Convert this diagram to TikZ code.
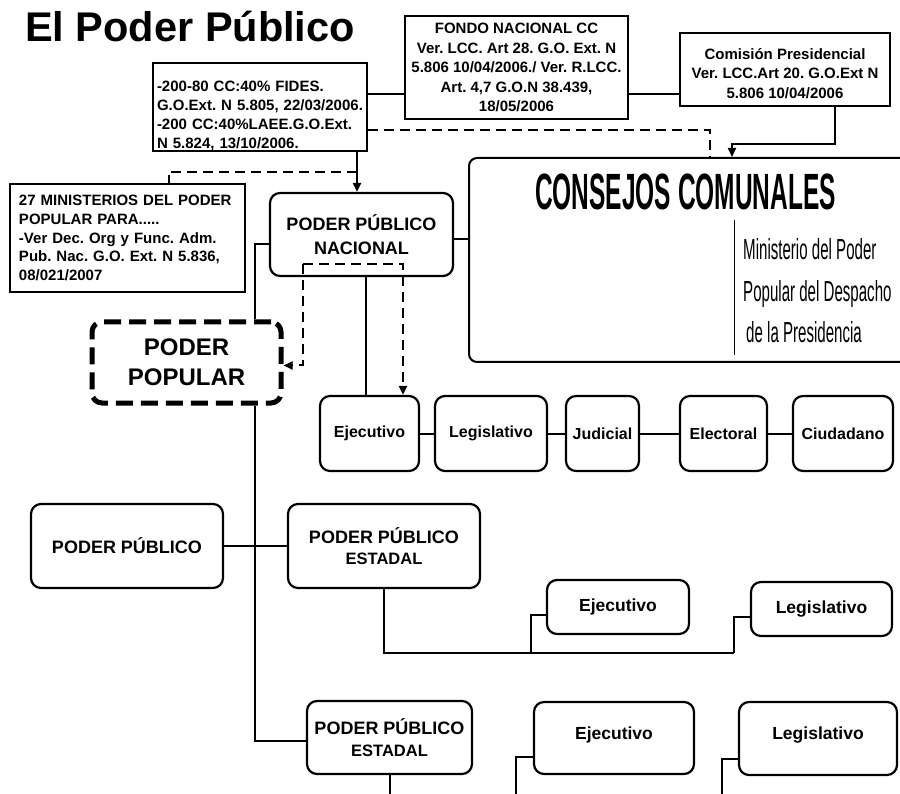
\documentclass[tikz,border=0pt]{standalone}
\usepackage{fontspec}
\setmainfont{Liberation Sans}
\usepackage{graphicx}
\usepackage{tikz}
\usetikzlibrary{arrows.meta}

\tikzset{
  lawbox/.style = {draw, line width = 2.2pt, inner sep = 0pt, font = \fontsize{15}{18.8}\selectfont\bfseries},
  powbox/.style = {draw, line width = 2.2pt, rounded corners = 10pt, align = center, inner sep = 0pt},
  rowA/.style = {powbox, minimum height = 75pt, font = \fontsize{16}{19}\selectfont\bfseries},
  rowB/.style = {powbox, font = \fontsize{17.5}{21}\selectfont\bfseries},
  bigbox/.style = {powbox, font = \fontsize{18}{24}\selectfont\bfseries},
  link/.style = {line width = 2pt},
  dlink/.style = {line width = 2pt, dash pattern = on 10pt off 6pt},
  arr/.style = {-{Triangle[length = 9pt, width = 8pt]}}
}

\begin{document}
\frenchspacing
\begin{tikzpicture}[x = 1pt, y = -1pt]
  \path[use as bounding box, fill = white] (0, 0) rectangle (900, 794);
  \node[anchor = base west, inner sep = 0pt, font = \fontsize{41.5}{42}\selectfont\bfseries] (title) at (25, 42) {El Poder Público};
  \node[lawbox, minimum width = 214pt, minimum height = 88pt, text width = 206pt, align = left] (decA) at (260, 107) {\rule{0pt}{28pt}-200-80 CC:40\% FIDES.\\G.O.Ext. N 5.805, 22/03/2006.\\-200 CC:40\%LAEE.G.O.Ext.\\N 5.824, 13/10/2006.};
  \node[lawbox, align = center, minimum width = 223pt, minimum height = 103pt, font = \fontsize{15}{19.5}\selectfont\bfseries] (fondo) at (516.5, 67.5) {FONDO NACIONAL CC\\Ver. LCC. Art 28. G.O. Ext. N\\5.806 10/04/2006./ Ver. R.LCC.\\Art. 4,7 G.O.N 38.439,\\18/05/2006};
  \node[lawbox, align = center, minimum width = 210pt, minimum height = 73pt, font = \fontsize{15}{19.5}\selectfont\bfseries] (comision) at (785, 69.5) {\rule{0pt}{19pt}Comisión Presidencial\\Ver. LCC.Art 20. G.O.Ext N\\5.806 10/04/2006};
  \node[lawbox, minimum width = 235pt, minimum height = 108pt, text width = 217pt, align = left] (minis) at (127.5, 238) {27 MINISTERIOS DEL PODER\\POPULAR PARA.....\\-Ver Dec. Org y Func. Adm.\\Pub. Nac. G.O. Ext. N 5.836,\\08/021/2007};
  \node[bigbox, minimum width = 183pt, minimum height = 83pt] (ppn) at (361.5, 234.5) {PODER PÚBLICO\\NACIONAL};

  \node[draw, line width = 2pt, rounded corners = 8pt, minimum width = 440pt, minimum height = 204pt] (consejos) at (689, 260) {};
  \node[anchor = base, inner sep = 0pt, font = \fontsize{51}{51}\selectfont\bfseries] (ccTitle) at (685.5, 210) {\scalebox{0.48}[1]{CONSEJOS COMUNALES}};
  \draw[line width = 1pt] (734, 220) -- (734, 355);
  \node[anchor = base west, inner sep = 0pt, font = \fontsize{29}{29}\selectfont] (minA) at (743, 260) {\scalebox{0.52}[1]{Ministerio del Poder}};
  \node[anchor = base west, inner sep = 0pt, font = \fontsize{29}{29}\selectfont] (minB) at (743, 302) {\scalebox{0.52}[1]{Popular del Despacho}};
  \node[anchor = base west, inner sep = 0pt, font = \fontsize{29}{29}\selectfont] (minC) at (746, 343) {\scalebox{0.52}[1]{de la Presidencia}};

  \node[draw, line width = 5pt, dash pattern = on 17pt off 8pt, rounded corners = 10pt, minimum width = 189pt, minimum height = 81pt, align = center, inner sep = 0pt, font = \fontsize{24}{30}\selectfont\bfseries] (popular) at (186.5, 362.5) {PODER\\POPULAR};

  \node[rowA, minimum width = 99pt] (ejA) at (369.5, 433.5) {Ejecutivo};
  \node[rowA, minimum width = 112pt] (legA) at (491, 433.5) {Legislativo};
  \node[rowA, minimum width = 73pt] (jud) at (602.5, 433.5) {Judicial};
  \node[rowA, minimum width = 87pt] (ele) at (723.5, 433.5) {\raisebox{-3pt}{Electoral}};
  \node[rowA, minimum width = 100pt] (ciu) at (843, 433.5) {Ciudadano};

  \node[bigbox, minimum width = 192pt, minimum height = 84pt] (poderp) at (127, 546) {PODER PÚBLICO};
  \node[bigbox, minimum width = 192pt, minimum height = 84pt, font = \fontsize{18}{21}\selectfont\bfseries] (ppeA) at (384, 546) {PODER PÚBLICO\\{\fontsize{16.5}{21}\selectfont ESTADAL}};
  \node[rowB, minimum width = 142pt, minimum height = 54pt] (ejB) at (618, 607) {Ejecutivo};
  \node[rowB, minimum width = 141pt, minimum height = 54pt] (legB) at (821.5, 609) {Legislativo};
  \node[bigbox, minimum width = 165pt, minimum height = 73pt, font = \fontsize{18}{22}\selectfont\bfseries] (ppeB) at (389.5, 737.5) {PODER PÚBLICO\\{\fontsize{16.5}{22}\selectfont ESTADAL}};
  \node[rowB, minimum width = 160pt, minimum height = 72pt] (ejC) at (614, 738) {\raisebox{9pt}{Ejecutivo}};
  \node[rowB, minimum width = 158pt, minimum height = 73pt] (legC) at (818, 738.5) {\raisebox{10pt}{Legislativo}};

  \coordinate (cmBend) at (732, 144);
  \coordinate (aJoin) at (357, 172);
  \coordinate (dL) at (303, 264);
  \coordinate (dR) at (403, 264);
  \coordinate (eTap) at (531, 653);
  \coordinate (eBus) at (734, 653);
  \coordinate (bot) at (0, 800);

  \draw[link] ([yshift = 13pt]decA.east) -- ([yshift = 13pt]decA.east -| fondo.west);
  \draw[link] ([yshift = -26.5pt]fondo.east) -- ([yshift = -26.5pt]fondo.east -| comision.west);
  \draw[link, arr] ([xshift = 50pt]comision.south) |- (cmBend) -- (cmBend |- consejos.north);
  \draw[dlink] ([yshift = -23pt]decA.east) -| ([xshift = 21pt]consejos.north);
  \draw[link, arr] ([xshift = 97pt]decA.south) -- ([xshift = 97pt]decA.south |- ppn.north);
  \draw[dlink] (aJoin) -| ([xshift = 41pt]minis.north);
  \draw[link] ([yshift = -9.5pt]ppn.west) -| ([xshift = 68.5pt]popular.north);
  \draw[link] ([yshift = -4.5pt]ppn.east) -- ([yshift = -4.5pt]ppn.east -| consejos.west);
  \draw[link] ([xshift = 4.5pt]ppn.south) -- ([xshift = 4.5pt]ppn.south |- ejA.north);
  \draw[dlink, arr] (dL) -- (dR) -- (dR |- ejA.north);
  \draw[dlink, arr] (dL) |- ([yshift = -3pt]popular.east);

  \draw[link] (ejA) -- (legA);
  \draw[link] (legA) -- (jud);
  \draw[link] (jud) -- (ele);
  \draw[link] (ele) -- (ciu);

  \draw[link] ([xshift = 68.5pt]popular.south) |- ([yshift = -3.5pt]ppeB.west);
  \draw[link] (poderp) -- (ppeA);
  \draw[link] (ppeA.south) |- (eBus);
  \draw[link] (eTap) |- ([yshift = -8pt]ejB.west);
  \draw[link] (eBus) |- ([yshift = -8pt]legB.west);
  \draw[link] (ppeB.south) -- (ppeB.south |- bot);
  \draw[link] ([yshift = -19pt]ejC.west) -| ([xshift = -17pt]ejC.west |- bot);
  \draw[link] ([yshift = -20.5pt]legC.west) -| ([xshift = -16pt]legC.west |- bot);
\end{tikzpicture}
\end{document}
